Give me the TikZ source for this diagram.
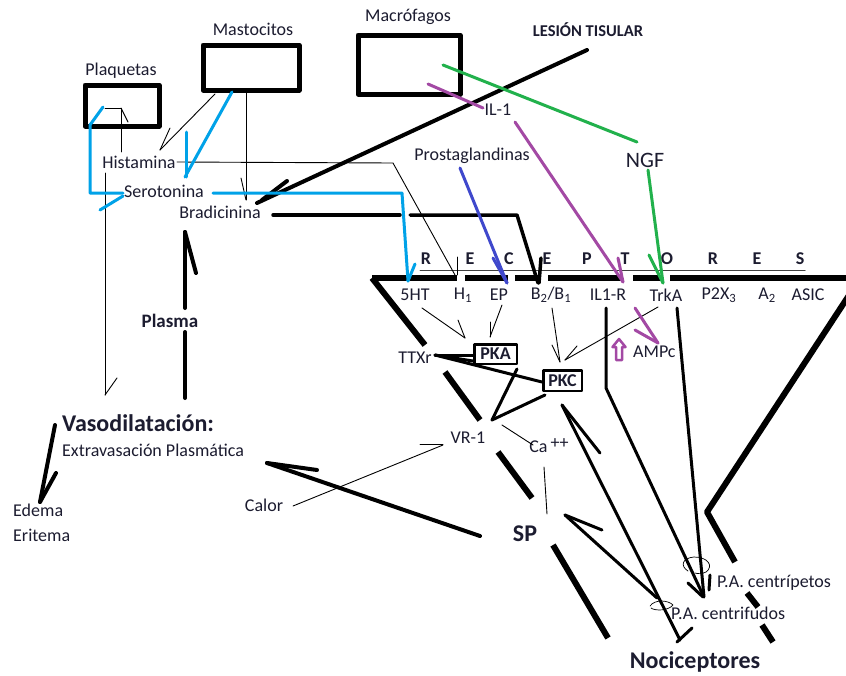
\documentclass[tikz,border=0pt]{standalone}
\usepackage{fontspec}
\setmainfont{Carlito}
\definecolor{ink}{RGB}{28,28,48}
\definecolor{pcyan}{RGB}{0,162,232}
\definecolor{pgreen}{RGB}{34,177,76}
\definecolor{ppurple}{RGB}{163,73,164}
\definecolor{pblue}{RGB}{63,72,204}
\begin{document}
\begin{tikzpicture}[x=1pt,y=-1pt,line cap=round,line join=round,
  lbl/.style={inner sep=0pt,text=ink,font=\fontsize{18}{21}\selectfont},
  bld/.style={inner sep=0pt,text=ink,font=\bfseries\fontsize{18}{21}\selectfont},
  big/.style={inner sep=0pt,text=ink,font=\bfseries\fontsize{24}{28}\selectfont},
  hair/.style={line width=0.9pt,draw=black},
  med/.style={line width=3pt,draw=black},
  heavy/.style={line width=4pt,draw=black},
  rim/.style={line width=6pt,draw=black,line cap=butt},
  cellbox/.style={draw=black,line width=5pt,inner sep=0pt},
  kinase/.style={draw=black,line width=2.5pt,inner sep=0pt,text=ink,font=\bfseries\fontsize{18}{21}\selectfont},
  cy/.style={line width=3pt,draw=pcyan},
  gr/.style={line width=3pt,draw=pgreen},
  pu/.style={line width=3pt,draw=ppurple},
  bl/.style={line width=3pt,draw=pblue}]
\useasboundingbox (0,0) rectangle (846,675);
\clip (0,0) rectangle (846,675);
\fill[white] (0,0) rectangle (846,675);

% cells
\node[cellbox,minimum width=74pt,minimum height=41pt] (plaq) at (122,105.5) {};
\node[cellbox,minimum width=96pt,minimum height=45pt] (masto) at (251,67.5) {};
\node[cellbox,minimum width=102pt,minimum height=59pt] (macro) at (409,64.5) {};
\node[lbl] (plaqT) at (121,71) {Plaquetas};
\node[lbl] (mastoT) at (253,29) {Mastocitos};
\node[lbl] (macroT) at (408,17) {Macrófagos};
\node[bld,font=\bfseries\fontsize{16.5}{19}\selectfont] (lesion) at (588,30) {LESIÓN TISULAR};

% mediators
\node[lbl] (il1) at (498,110) {IL-1};
\node[lbl] (prost) at (472,156) {Prostaglandinas};
\node[lbl,font=\fontsize{22}{26}\selectfont] (ngf) at (645,160) {NGF};
\node[lbl] (hist) at (139,162) {Histamina};
\node[lbl] (sero) at (164,191) {Serotonina};
\node[lbl] (brad) at (220,212) {Bradicinina};

% receptor membrane
\foreach \a/\b in {372/457,465/508,515/540,548/623,633/662,670/850}
  \draw[rim] (\a,278) -- (\b,278);
\draw[line width=1pt,draw=black!75] (420,270) -- (805,270);
\foreach \x/\l in {426/R,470/E,509/C,547/E,587/P,625/T,667/O,713/R,757/E,800/S}
  \node[bld] at (\x,259) {\l};
\node[lbl] (r5ht) at (415,295) {5HT};
\node[lbl] (rh1) at (463,295) {H\textsubscript{1}};
\node[lbl] (rep) at (499,295) {EP};
\node[lbl] (rb) at (551,295) {B\textsubscript{2}/B\textsubscript{1}};
\node[lbl] (ril) at (608,295) {IL1-R};
\node[lbl] (rtrk) at (666,295) {TrkA};
\node[lbl] (rp2x) at (719,295) {P2X\textsubscript{3}};
\node[lbl] (ra2) at (767,295) {A\textsubscript{2}};
\node[lbl] (rasic) at (808,295) {ASIC};

% neuron outline
\draw[rim] (372,278) -- (425,345);
\draw[rim] (445,372) -- (480,420);
\draw[rim] (498,452) -- (532,498);
\draw[rim] (553,545) -- (608,638);
\draw[rim] (859,280) -- (707,512) -- (735,562);
\draw[rim] (747,593) -- (758,607);
\draw[rim] (762,625) -- (773,642);

% intracellular labels
\node[lbl] (ttx) at (415,358) {TTXr};
\node[kinase,minimum width=42.5pt,minimum height=19.5pt] (pka) at (495.5,354) {PKA};
\node[kinase,minimum width=38.5pt,minimum height=20.5pt] (pkc) at (562.5,380.5) {PKC};
\node[lbl,anchor=west] (ampc) at (633,352) {AMPc};
\node[lbl] (vr1) at (468,438) {VR-1};
\node[lbl] (ca) at (549,446) {Ca\,\raisebox{4pt}{++}};
\node[lbl] (calor) at (264,505) {Calor};
\node[big] (sp) at (525,534) {SP};
\node[lbl,anchor=west] (pacp) at (717,583) {P.A. centrípetos};
\node[lbl,anchor=west] (pacf) at (671,613) {P.A. centrifudos};
\node[big] (noci) at (695,662) {Nociceptores};

% vascular side
\node[bld,font=\bfseries\fontsize{19}{22}\selectfont] (plasma) at (170,321) {Plasma};
\node[big,anchor=west] (vaso) at (62,423) {Vasodilatación:};
\node[lbl,anchor=west] (extra) at (62,450) {Extravasación Plasmática};
\node[lbl,anchor=west] (edema) at (13,510) {Edema};
\node[lbl,anchor=west] (erit) at (13,535) {Eritema};

% tissue injury to bradykinin
\draw[heavy] (587,50) -- (257,203);
\draw[heavy] (287,181) -- (262,200);

% bradykinin to B2/B1
\draw[line width=3.5pt] (273,215) -- (400,215);
\draw[line width=3.5pt] (410,215) -- (517,215) -- (538,283);
\draw[line width=3.5pt] (541,258) -- (539,283);

% thin mediator paths
\draw[hair] (215,94) -- (160,150);
\draw[hair] (170,128) -- (160,150);
\draw[hair] (105,108) -- (121,108) -- (121,152);
\draw[hair] (121,108) -- (128,122);
\draw[hair] (177,162) -- (393,163) -- (455,275);
\draw[hair] (457,257) -- (457,275);
\draw[hair] (105,173) -- (105,395);
\draw[hair] (117,378) -- (105,395);
\draw[hair] (246,93) -- (246,200);
\draw[hair] (241,178) -- (246,200);

% serotonin (cyan)
\draw[cy] (103,107) -- (90,125) -- (90,193) -- (123,193);
\draw[cy] (100,210) -- (123,196);
\draw[cy] (232,92) -- (185,177);
\draw[cy] (186,132) -- (186,177);
\draw[cy] (213,193) -- (402,193) -- (408,281);
\draw[cy] (415,264) -- (408,281);

% IL-1 (purple)
\draw[pu] (428,84) -- (483,108);
\draw[pu] (515,122) -- (623,282);
\draw[pu] (618,258) -- (623,282);

% NGF (green)
\draw[gr] (443,65) -- (637,142);
\draw[gr] (648,170) -- (663,283);
\draw[gr] (649,255) -- (663,283);

% prostaglandins (blue)
\draw[bl] (460,168) -- (507,283);
\draw[bl] (493,258) -- (507,283);

% receptor to kinase paths
\draw[hair] (422,308) -- (465,338);
\draw[hair] (458,320) -- (465,338);
\draw[hair] (502,305) -- (490,337);
\draw[hair] (490,322) -- (490,337);
\draw[hair] (552,308) -- (560,362);
\draw[hair] (552,345) -- (560,362);
\draw[hair] (658,307) -- (565,360);
\draw[hair] (577,346) -- (565,360);

% cAMP
\draw[pu] (635,308) -- (658,343);
\draw[pu] (635,330) -- (658,343);
\draw[ppurple,line width=2.5pt] (619,339) -- (625.5,347) -- (622,347) -- (622,360) -- (616,360) -- (616,347) -- (612.5,347) -- cycle;

% kinases, TTXr and VR-1
\draw[med] (435,355) -- (473,355);
\draw[med] (435,355) -- (473,361);
\draw[med] (435,355) -- (542,382);
\draw[med] (517,369) -- (492,420);
\draw[med] (545,395) -- (492,420);
\draw[hair] (502,425) -- (533,445);
\draw[hair] (443,445) -- (293,506);
\draw[hair] (420,444) -- (443,444);
\draw[hair] (544,467) -- (547,514);

% SP to plasma extravasation
\draw[heavy] (480,536) -- (267,463);
\draw[heavy] (267,463) -- (317,470);

% plasma and vasodilation
\draw[heavy] (185,232) -- (185,308);
\draw[heavy] (185,332) -- (185,398);
\draw[heavy] (185,232) -- (196,273);
\draw[heavy] (55,425) -- (40,502);
\draw[heavy] (56,473) -- (40,502);

% action potentials
\draw[med] (606,308) -- (606,388) -- (703,595);
\draw[med] (677,308) -- (704,597);
\draw[med] (688,583) -- (703,597);
\draw[med] (710,575) -- (709,590);
\draw[med] (562,405) -- (680,640);
\draw[med] (562,405) -- (600,453);
\draw[med] (677,642) -- (692,628);
\draw[med] (565,515) -- (657,598);
\draw[med] (565,515) -- (602,530);
\draw[line width=0.7pt] (688,571) .. controls (680,566) and (682,558) .. (694,557) .. controls (708,557) and (714,566) .. (706,572) .. controls (702,574) and (698,574) .. (695,573);
\draw[line width=0.7pt] (650,606) .. controls (655,599) and (668,600) .. (673,605) .. controls (668,611) and (655,611) .. (651,608);
\end{tikzpicture}
\end{document}
